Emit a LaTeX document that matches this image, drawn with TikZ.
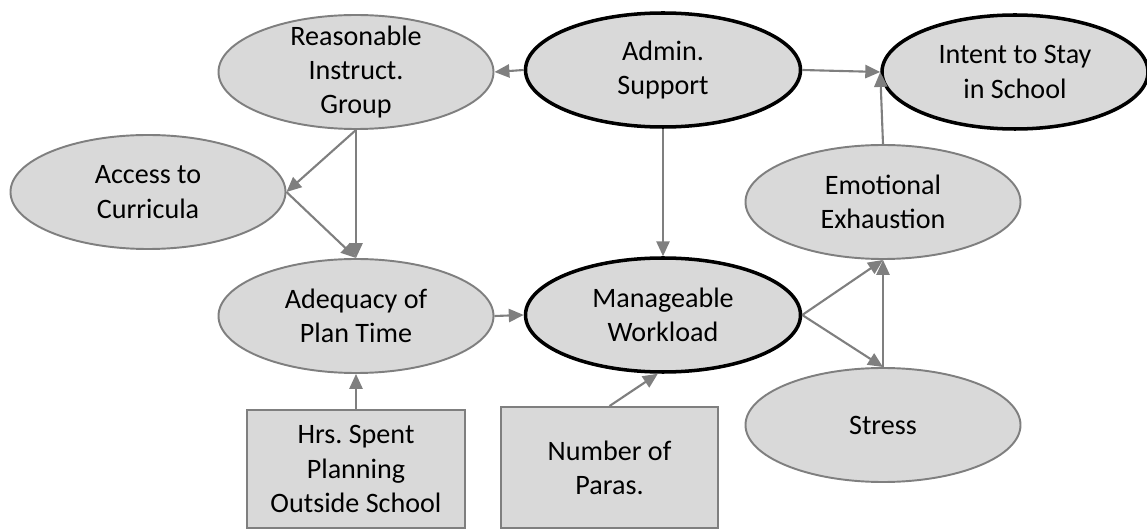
\documentclass[tikz,border=0pt]{standalone}
\usepackage{fontspec}
\setmainfont{Carlito}
\usetikzlibrary{arrows.meta,shapes.geometric}
\definecolor{cellgray}{RGB}{217,217,217}
\definecolor{linegray}{RGB}{127,127,127}
\frenchspacing

\begin{document}
\begin{tikzpicture}[x=0.02cm,y=-0.02cm,
    var/.style={ellipse,draw=linegray,line width=1.1pt,fill=cellgray,
      minimum width=275*0.02cm,minimum height=114*0.02cm,inner sep=0pt,
      align=center,font=\fontsize{16}{19.5}\selectfont},
    keyvar/.style={var,draw=black,line width=2pt},
    obs/.style={rectangle,draw=linegray,line width=1.1pt,fill=cellgray,
      inner sep=0pt,align=center,font=\fontsize{16}{19.5}\selectfont},
    link/.style={draw=linegray,line width=1.2pt,-{Triangle[length=8.5pt,width=7.5pt]}}]
  \useasboundingbox (0,0) rectangle (1147,530);
  % top row
  \node[var,inner ysep=-6pt] (rig) at (356,72) {Reasonable\\Instruct.\\Group};
  \node[keyvar] (adm) at (663,70) {Admin.\\Support};
  \node[keyvar,minimum width=266*0.02cm] (int) at (1015,72) {Intent to Stay\\in School};
  % middle
  \node[var] (acc) at (148,192) {Access to\\Curricula};
  \node[var] (emo) at (883,202) {Emotional\\Exhaustion};
  \node[var] (ade) at (356,316) {Adequacy of\\Plan Time};
  \node[keyvar] (mwl) at (663,315) {Manageable\\Workload};
  \node[var] (str) at (883,425) {Stress};
  % observed counts
  \node[obs,minimum width=218*0.02cm,minimum height=118*0.02cm] (hrs) at (356,469)
    {Hrs. Spent\\Planning\\Outside School};
  \node[obs,minimum width=217*0.02cm,minimum height=121*0.02cm] (par) at (609.5,467.5)
    {Number of\\Paras.};

  \draw[link] (adm.west) -- (rig.east);
  \draw[link] (adm.east) -- (int.west);
  \draw[link] (adm.south) -- (mwl.north);
  \draw[link] (rig.south) -- (acc.east);
  \draw[link] (rig.south) -- (ade.north);
  \draw[link] (acc.east) -- (ade.north);
  \draw[link] (ade.east) -- (mwl.west);
  \draw[link] (hrs.north) -- (ade.south);
  \draw[link] (par.north) -- (mwl.-95);
  \draw[link] (mwl.east) -- (emo.south);
  \draw[link] (mwl.east) -- (str.north);
  \draw[link] (str.north) -- (emo.south);
  \draw[link] (emo.north) -- (int.west);
\end{tikzpicture}
\end{document}
